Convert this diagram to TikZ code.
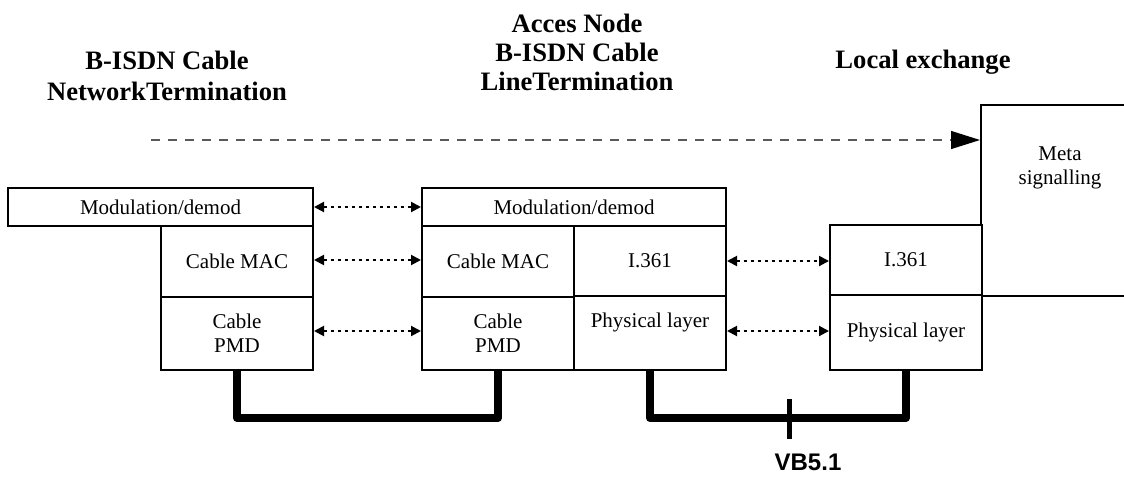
\documentclass[tikz,border=0pt]{standalone}
\usepackage{fontspec}
\setmainfont{Liberation Serif}
\newfontfamily\arialfont{Liberation Sans}
\usetikzlibrary{arrows.meta}
\begin{document}
\begin{tikzpicture}[x=0.5pt,y=-0.5pt,
  layerbox/.style={draw, line width=1pt, inner sep=0pt, font=\fontsize{10.5}{12}\selectfont, align=center},
  boxtxt/.style={inner sep=0pt, font=\fontsize{10.5}{12}\selectfont},
  headtxt/.style={font=\fontsize{13.3}{15.5}\selectfont\bfseries, anchor=base, inner sep=0pt},
  peer/.style={line width=1pt, dash pattern=on 1.75pt off 1.75pt,
    {Triangle[length=5pt,width=5pt]}-{Triangle[length=5pt,width=5pt]}},
  bus/.style={line width=4pt, line join=round},
]
\useasboundingbox (0,0) rectangle (1124,477);

% headings
\node[headtxt] (nt1) at (167,69) {B-ISDN Cable};
\node[headtxt] (nt2) at (167,100) {NetworkTermination};
\node[headtxt] (an1) at (577,32) {Acces Node};
\node[headtxt] (an2) at (577,61) {B-ISDN Cable};
\node[headtxt] (an3) at (577,90) {LineTermination};
\node[headtxt] (le) at (923,68) {Local exchange};

% left stack (network termination)
\node[layerbox, minimum width=152.5pt, minimum height=19pt] (lmod) at (160.5,207) {Modulation/demod};
\node[layerbox, minimum width=76pt, minimum height=35.5pt] (lmac) at (237,261.5) {Cable MAC};
\node[layerbox, minimum width=76pt, minimum height=36.5pt] (lpmd) at (237,333.5) {Cable\\PMD};

% middle stack (line termination)
\node[layerbox, minimum width=152pt, minimum height=19pt] (mmod) at (574,207) {Modulation/demod};
\node[layerbox, minimum width=76pt, minimum height=35.5pt] (mmac) at (498,261.5) {Cable MAC};
\node[layerbox, minimum width=76pt, minimum height=35pt] (mi361) at (650,261) {I.361};
\node[layerbox, minimum width=76pt, minimum height=36.5pt] (mpmd) at (498,333.5) {Cable\\PMD};
\node[layerbox, minimum width=76pt, minimum height=37pt] (mphys) at (650,333) {};
\node[boxtxt] (mphyslbl) at (650,322) {Physical layer};

% right stack (local exchange)
\node[layerbox, minimum width=76pt, minimum height=35pt] (ri361) at (906,260) {I.361};
\node[layerbox, minimum width=76pt, minimum height=37.5pt] (rphys) at (906,332.5) {Physical layer};

% meta signalling box (open to the right)
\coordinate (metatl) at (981,105);
\coordinate (metatr) at (1124,105);
\coordinate (metabr) at (1124,295);
\draw[line width=1pt] (metatr) -- (metatl) -- (metatl |- ri361.north east);
\draw[line width=1pt] (ri361.south east) -- (ri361.south east -| metabr);
\node[boxtxt, anchor=base] (meta1) at (1060,160) {Meta};
\node[boxtxt, anchor=base] (meta2) at (1060,184) {signalling};

% long dashed arrow
\coordinate (dstart) at (151,140);
\coordinate (dend) at (980,140);
\draw[line width=0.6pt, draw=black!65, dash pattern=on 4.5pt off 4pt,
  -{Triangle[length=14.5pt,width=9pt,color=black,fill=black]}] (dstart) -- (dend);

% peer arrows
\draw[peer] (lmod.east) -- (mmod.west);
\draw[peer] ([yshift=0.75pt]lmac.east) -- ([yshift=0.75pt]mmac.west);
\draw[peer] ([yshift=1.25pt]lpmd.east) -- ([yshift=1.25pt]mpmd.west);
\draw[peer] (mi361.east) -- (mi361.east -| ri361.west);
\draw[peer] ([yshift=1pt]mphys.east) -- ([yshift=1pt]mphys.east -| rphys.west);

% physical links
\draw[bus] (lpmd.south) -- ++(0,47) -| (mpmd.south);
\draw[bus] (mphys.south) -- ++(0,47) -| (rphys.south);

% VB5.1 reference point
\coordinate (vbtop) at (789,399);
\coordinate (vbbot) at (789,439);
\draw[line width=2.5pt] (vbtop) -- (vbbot);
\node[inner sep=0pt, anchor=base, font=\arialfont\bfseries\fontsize{12}{14}\selectfont] (vb) at (808,470) {VB5.1};
\end{tikzpicture}
\end{document}
